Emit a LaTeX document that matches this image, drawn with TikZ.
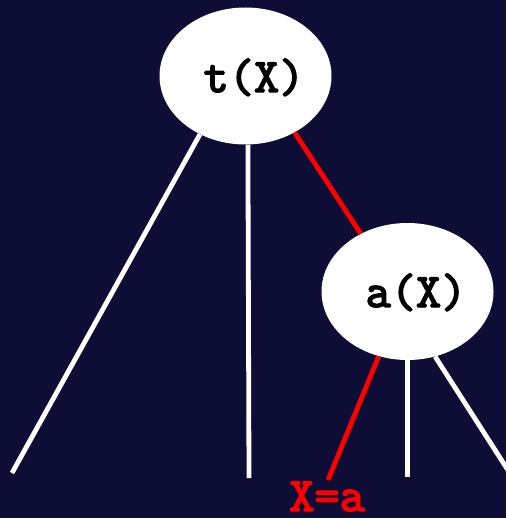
\documentclass[tikz,border=0pt]{standalone}
\usepackage{fontspec}
\newfontfamily\termfont[FakeBold=3]{lmmono10-regular.otf}
\usetikzlibrary{shapes.geometric}
\definecolor{night}{RGB}{13,13,53}
\tikzset{
	blob/.style={ellipse, fill=white, minimum width=172pt, minimum height=137pt, inner sep=0pt},
	term/.style={font=\fontsize{48}{48}\selectfont\termfont, text=black, inner sep=0pt, anchor=base},
	limb/.style={line width=4.8pt, color=white},
	hot/.style={line width=4.8pt, color=red}
}

\begin{document}
\begin{tikzpicture}[x=1pt, y=-1pt]
		%%%%% START %%%%%
		
		\clip (0, 0) rectangle (506, 518);
		\fill[night] (0, 0) rectangle (506, 518);
		
		\node[blob] (t) at (245.5, 76) {};
		\node[blob] (a) at (407.5, 291.5) {};
		\node[term] (tx) at ([xshift=8.5pt, yshift=-16pt]t.center) {t(X)};
		\node[term] (ax) at ([xshift=8.5pt, yshift=-15.5pt]a.center) {a(X)};
		
		\coordinate (l1) at (12, 473);
		\coordinate (l2) at (249, 478);
		\coordinate (l3) at (328, 480);
		\coordinate (l4) at (407.5, 477);
		\coordinate (l5) at (513, 478);
		
		\draw[limb] (t.232) -- (l1);
		\draw[limb] (t.272) -- (l2);
		\draw[hot] (t.311) -- (a.129);
		
		\draw[hot] (a.246) -- (l3);
		\draw[limb] (a.270) -- (l4);
		\draw[limb] (a.293.5) -- (l5);
		
		\node[term, text=red] (xa) at (327, 511) {X=a};
		
		%%%%% END %%%%%
	\end{tikzpicture}
\end{document}
